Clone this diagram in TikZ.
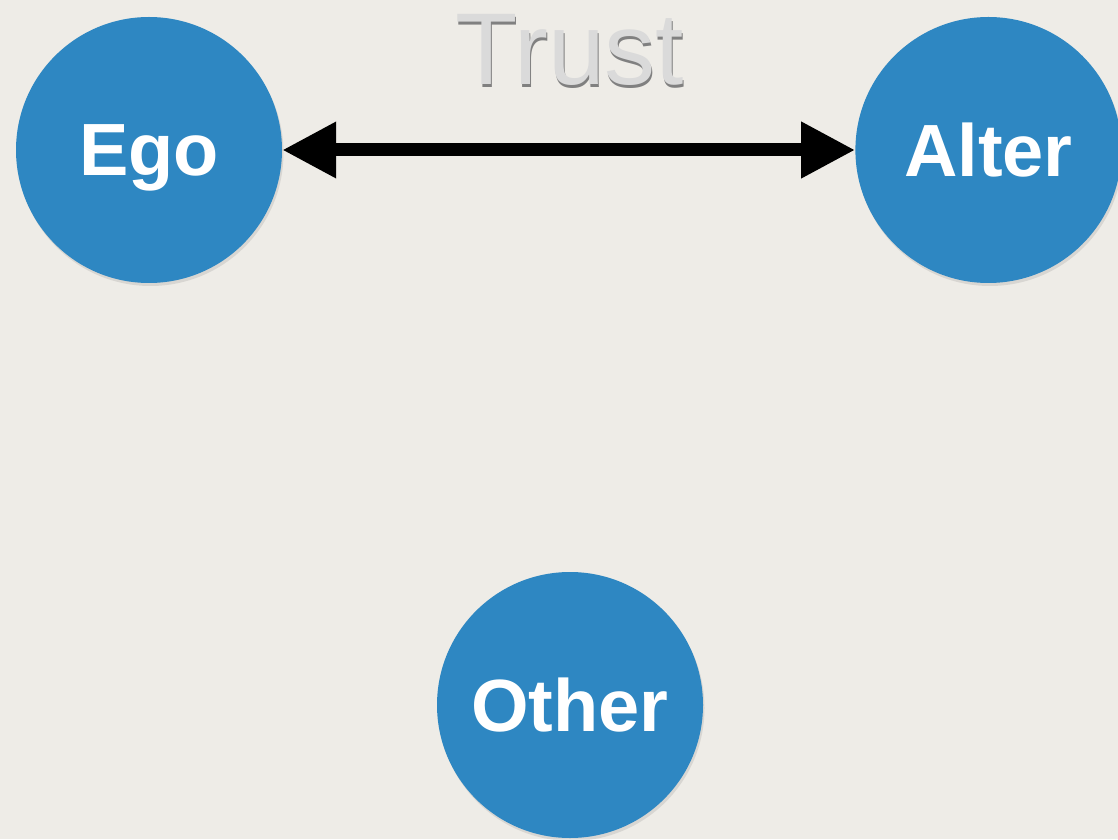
\documentclass[tikz,border=0pt]{standalone}
\usepackage{fontspec}
\setmainfont{Liberation Sans}
\usetikzlibrary{positioning, arrows.meta, shadows}

\definecolor{paper}{HTML}{EEECE7}
\definecolor{nodeblue}{HTML}{2E87C2}
\definecolor{trustgrey}{HTML}{DADADA}

% text with a dark shadow below it
\newcommand{\shadowed}[2]{\rlap{\kern1pt\raisebox{-3pt}{\textcolor{#2}{#1}}}#1}

\begin{document}
\begin{tikzpicture}[
         x=1pt, y=1pt,
         node distance=573pt,
         person/.style={circle, fill=nodeblue, minimum size=266pt, inner sep=0pt,
            text=white, text depth=0pt, font=\fontsize{74}{80}\selectfont\bfseries,
            drop shadow={shadow xshift=1.5pt, shadow yshift=-3pt, opacity=0.2}},
         relation/.style={text=trustgrey, font=\fontsize{102}{110}\selectfont, anchor=base},
         tie/.style={line width=13pt, {Triangle[length=54pt, width=53pt]}-{Triangle[length=54pt, width=53pt]}}
      ]
         % Paper
         \fill[paper] (0,0) rectangle (1118,839);
         \useasboundingbox (0,0) rectangle (1118,839);

         % Nodes for actors
         \node[person] (ego) at (149,689) {Ego};
         \node[person, right=of ego] (alter) {Alter};
         \node[person] (other) at (570,134) {Other};

         % Trust tie
         \draw[tie] (ego) -- (alter);
         \node[relation] (trust) at (570,754) {\shadowed{Trust}{black!50}};
      \end{tikzpicture}
\end{document}
